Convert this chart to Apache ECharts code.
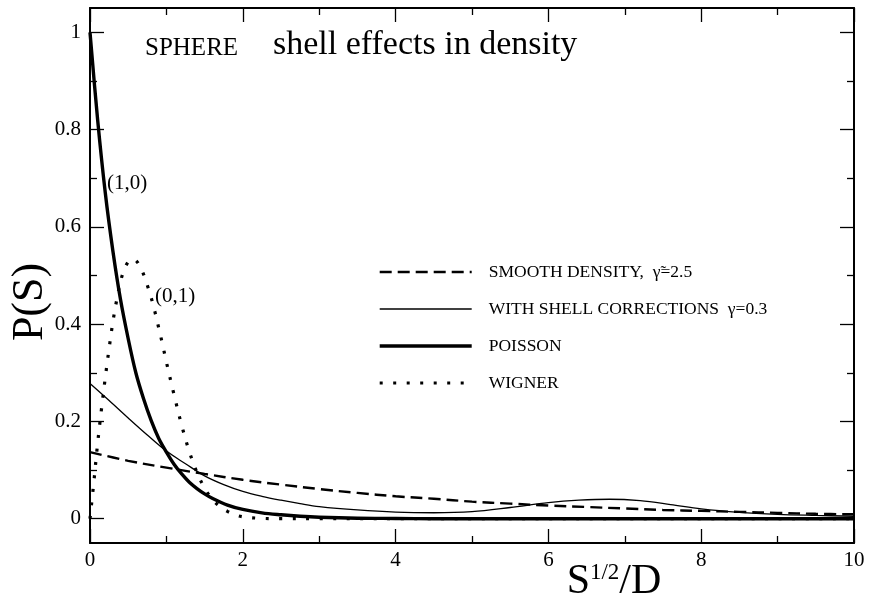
<!DOCTYPE html>
<html>
<head>
<meta charset="utf-8">
<script src="https://cdn.jsdelivr.net/npm/echarts@6/dist/echarts.min.js"></script>
<style>
  html, body { margin: 0; padding: 0; background: #fff; }
  #chart { width: 870px; height: 602px; }
</style>
</head>
<body>
<div id="chart"></div>
<script>
// Level-spacing distributions, P(S) against S^{1/2}/D
var smoothX = [0, 0.5, 1, 1.5, 2, 2.5, 3, 3.5, 4, 4.5, 5, 5.5, 6, 6.5, 7, 7.5, 8, 8.5, 9, 9.5, 10];
var smoothY = [0.137, 0.119, 0.105, 0.092, 0.080, 0.070, 0.061, 0.053, 0.046, 0.041, 0.035, 0.031, 0.027, 0.024, 0.021, 0.018, 0.016, 0.014, 0.012, 0.010, 0.009];

var shellX = [0, 0.25, 0.5, 0.75, 1.0, 1.25, 1.5, 1.75, 2.0, 2.25, 2.5, 2.75, 3.0, 3.5, 4.0, 4.5, 5.0, 5.5, 6.0, 6.4, 6.8, 7.2, 7.6, 8.0, 8.5, 9.0, 9.5, 10];
var shellY = [0.278, 0.243, 0.207, 0.172, 0.139, 0.113, 0.088, 0.070, 0.056, 0.046, 0.038, 0.031, 0.025, 0.018, 0.0135, 0.0122, 0.0145, 0.023, 0.033, 0.038, 0.040, 0.037, 0.029, 0.020, 0.013, 0.009, 0.0068, 0.005];

var poissonX = [0, 0.1, 0.2, 0.3, 0.4, 0.5, 0.6, 0.7, 0.8, 0.9, 1.0, 1.1, 1.2, 1.3, 1.4, 1.5, 1.6, 1.8, 2.0, 2.25, 2.5, 2.75, 3.0, 3.5, 4.0, 4.5, 5, 6, 7, 8, 9, 10];
var poissonY = [1, 0.82, 0.67, 0.55, 0.45, 0.37, 0.30, 0.247, 0.202, 0.165, 0.137, 0.112, 0.092, 0.075, 0.062, 0.051, 0.042, 0.028, 0.019, 0.012, 0.008, 0.005, 0.003, 0.001, 0.0005, 0, 0, 0, 0, 0, 0, 0];

var wignerX = [0, 0.05, 0.1, 0.15, 0.2, 0.25, 0.3, 0.35, 0.4, 0.45, 0.5, 0.55, 0.6, 0.65, 0.7, 0.75, 0.8, 0.85, 0.9, 0.95, 1.0, 1.1, 1.2, 1.3, 1.4, 1.5, 1.6, 1.7, 1.8, 1.9, 2.0, 2.2, 2.5, 3, 4, 5, 6, 7, 8, 9, 10];
var wignerY = [0, 0.075, 0.155, 0.225, 0.29, 0.35, 0.405, 0.45, 0.488, 0.513, 0.528, 0.534, 0.531, 0.52, 0.503, 0.48, 0.455, 0.425, 0.392, 0.358, 0.322, 0.255, 0.192, 0.138, 0.095, 0.063, 0.04, 0.025, 0.015, 0.008, 0.004, 0.001, 0, 0, 0, 0, 0, 0, 0, 0, 0];

var yMajorTicks = [0, 0.2, 0.4, 0.6, 0.8, 1];
var yMinorTicks = [0.1, 0.3, 0.5, 0.7, 0.9];

var seriesNames = ['SMOOTH DENSITY,  \u03B3\u0303=2.5', 'WITH SHELL CORRECTIONS  \u03B3=0.3', 'POISSON', 'WIGNER'];

function pairs(xs, ys) {
  return xs.map(function (x, i) { return [x, ys[i]]; });
}

var SERIF = '"Liberation Serif", "DejaVu Serif", serif';
var INK = '#000';

// Stroke settings shared by each curve and its legend sample
var styles = [
  { color: INK, width: 2.4, type: [12, 6] },
  { color: INK, width: 1.3, type: 'solid' },
  { color: INK, width: 3.4, type: 'solid' },
  { color: INK, width: 3.2, type: [3, 10.5], cap: 'butt' }
];

function yAxisDef(pos, ticks, len, showLine, showLabel) {
  return {
    type: 'value', position: pos, min: -0.05, max: 1.05,
    axisLine: { show: showLine, onZero: false, lineStyle: { color: INK, width: 2 } },
    splitLine: { show: false },
    axisTick: { show: true, inside: true, length: len, customValues: ticks, lineStyle: { color: INK, width: 1.3 } },
    axisLabel: { show: showLabel, customValues: ticks, margin: 9, color: INK, fontFamily: SERIF, fontSize: 21 }
  };
}

function xAxisDef(pos, showLabel) {
  return {
    type: 'value', position: pos, min: 0, max: 10, interval: 2,
    axisLine: { show: true, onZero: false, lineStyle: { color: INK, width: 2 } },
    splitLine: { show: false },
    axisTick: { show: true, inside: true, length: 14, lineStyle: { color: INK, width: 1.3 } },
    minorTick: { show: true, splitNumber: 2, length: 7, lineStyle: { color: INK, width: 1.3 } },
    axisLabel: { show: showLabel, margin: 7, color: INK, fontFamily: SERIF, fontSize: 21 }
  };
}

function lineSeries(i, xs, ys, z) {
  return {
    name: seriesNames[i], type: 'line', data: pairs(xs, ys),
    symbol: 'none', smooth: 0.35, color: INK,
    lineStyle: styles[i], z: z
  };
}

var chart = echarts.init(document.getElementById('chart'), null, { renderer: 'canvas' });

chart.setOption({
  animation: false,
  backgroundColor: '#fff',
  grid: { left: 90, right: 16, top: 8, bottom: 59, containLabel: false, outerBoundsMode: 'none' },
  xAxis: [xAxisDef('bottom', true), xAxisDef('top', false)],
  yAxis: [
    yAxisDef('left', yMajorTicks, 14, true, true),
    yAxisDef('left', yMinorTicks, 7, false, false),
    yAxisDef('right', yMajorTicks, 14, true, false),
    yAxisDef('right', yMinorTicks, 7, false, false)
  ],
  legend: {
    orient: 'vertical', left: 378, top: 263, padding: 0,
    itemWidth: 92, itemHeight: 14, itemGap: 19,
    selectedMode: false,
    itemStyle: { opacity: 0, borderWidth: 0 },
    textStyle: { color: INK, fontFamily: SERIF, fontSize: 17.5, padding: [0, 0, 0, 12] },
    data: seriesNames.map(function (n, i) {
      return { name: n, lineStyle: { width: styles[i].width, type: styles[i].type, color: INK } };
    })
  },
  series: [
    lineSeries(0, smoothX, smoothY, 3),
    lineSeries(1, shellX, shellY, 4),
    lineSeries(2, poissonX, poissonY, 5),
    lineSeries(3, wignerX, wignerY, 2)
  ],
  graphic: [
    { type: 'text', left: 145, top: 36, style: { text: 'SPHERE', fill: INK, font: '25px ' + SERIF } },
    { type: 'text', left: 273, top: 28, style: { text: 'shell effects in density', fill: INK, font: '34px ' + SERIF } },
    { type: 'text', left: 107, top: 173, style: { text: '(1,0)', fill: INK, font: '21px ' + SERIF } },
    { type: 'text', left: 155, top: 286, style: { text: '(0,1)', fill: INK, font: '21px ' + SERIF } },
    {
      type: 'text', x: 30, y: 302, rotation: Math.PI / 2,
      style: { text: 'P(S)', fill: INK, font: '44px ' + SERIF, align: 'center', verticalAlign: 'middle' }
    },
    {
      type: 'text', x: 614, y: 582,
      style: {
        text: '{b|S}{s|1/2}{b|/D}', align: 'center', verticalAlign: 'middle', fill: INK,
        rich: {
          b: { fontFamily: SERIF, fontSize: 42, lineHeight: 42, fill: INK },
          s: { fontFamily: SERIF, fontSize: 23, verticalAlign: 'top', lineHeight: 42, fill: INK }
        }
      }
    }
  ]
});
</script>
</body>
</html>
